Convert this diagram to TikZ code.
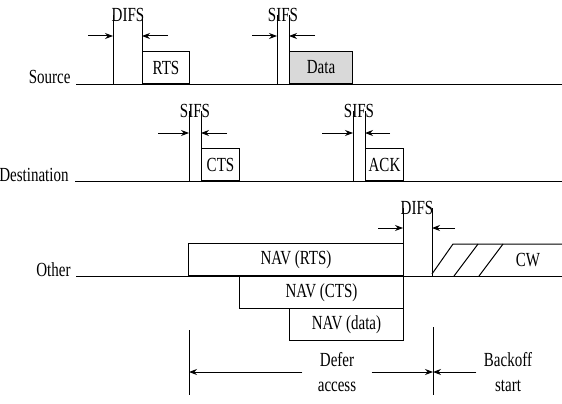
\documentclass[tikz,border=0pt]{standalone}
\usepackage{fontspec}
\setmainfont{Liberation Serif}[FakeStretch=0.75]
\usepackage{tikz}
\usetikzlibrary{arrows.meta,positioning}

\begin{document}
\begin{tikzpicture}[x=1pt, y=-1pt, line width=1pt,
    frame/.style={draw, anchor=south west, minimum height=32pt, inner sep=0pt, font=\fontsize{20}{25}\selectfont},
    lbl/.style={inner sep=0pt, font=\fontsize{20}{25}\selectfont},
    gap/.style={-{Stealth[length=8pt,width=6pt]}}
]
\useasboundingbox (0,0) rectangle (562,404);

% Source
\node[lbl, anchor=base east] (src) at (71,84) {Source};
\coordinate (srcL) at (76,84);
\coordinate (srcR) at (562,84);
\draw (srcL) -- (srcR);
\node[lbl] (difs1) at (128,15) {DIFS};
\coordinate (difs1a) at (113,84);
\coordinate (difs1b) at (142,84);
\draw (difs1a |- difs1.center) -- (difs1a);
\draw (difs1b |- difs1.center) -- (difs1b);
\coordinate (difs1l) at (88,36);
\coordinate (difs1r) at (168,36);
\draw[gap] (difs1l) -- (difs1l -| difs1a);
\draw[gap] (difs1r) -- (difs1r -| difs1b);
\node[frame, minimum width=47pt] (rts) at (difs1b) {RTS};
\node[lbl] (sifs1) at (283,15) {SIFS};
\coordinate (sifs1a) at (277,84);
\coordinate (sifs1b) at (289,84);
\draw (sifs1a |- sifs1.center) -- (sifs1a);
\draw (sifs1b |- sifs1.center) -- (sifs1b);
\coordinate (sifs1l) at (252,36);
\coordinate (sifs1r) at (315,36);
\draw[gap] (sifs1l) -- (sifs1l -| sifs1a);
\draw[gap] (sifs1r) -- (sifs1r -| sifs1b);
\node[frame, fill=gray!30, minimum width=63pt] (data) at (sifs1b) {Data};

% Destination
\node[lbl, anchor=base east] (dst) at (69,181) {Destination};
\coordinate (dstL) at (75,181);
\coordinate (dstR) at (562,181);
\draw (dstL) -- (dstR);
\node[lbl] (sifs2) at (195,111) {SIFS};
\coordinate (sifs2a) at (189,181);
\coordinate (sifs2b) at (201,181);
\draw (sifs2a |- sifs2.center) -- (sifs2a);
\draw (sifs2b |- sifs2.center) -- (sifs2b);
\coordinate (sifs2l) at (158,133);
\coordinate (sifs2r) at (227,133);
\draw[gap] (sifs2l) -- (sifs2l -| sifs2a);
\draw[gap] (sifs2r) -- (sifs2r -| sifs2b);
\node[frame, minimum width=38pt] (cts) at (sifs2b) {CTS};
\node[lbl] (sifs3) at (359,111) {SIFS};
\coordinate (sifs3a) at (353,181);
\coordinate (sifs3b) at (365,181);
\draw (sifs3a |- sifs3.center) -- (sifs3a);
\draw (sifs3b |- sifs3.center) -- (sifs3b);
\coordinate (sifs3l) at (322,133);
\coordinate (sifs3r) at (390,133);
\draw[gap] (sifs3l) -- (sifs3l -| sifs3a);
\draw[gap] (sifs3r) -- (sifs3r -| sifs3b);
\node[frame, minimum width=38pt] (ack) at (sifs3b) {ACK};

% Other
\node[lbl, anchor=base east] (oth) at (71,276) {Other};
\coordinate (othL) at (76,276);
\coordinate (othR) at (562,276);
\draw (othL) -- (othR);
\node[frame, minimum width=215pt] (navrts) at (188,276) {NAV (RTS)};
\node[frame, anchor=north west, minimum width=164pt] (navcts) at (239,276) {NAV (CTS)};
\node[frame, anchor=north west, minimum width=114pt] (navdata) at (289,308) {NAV (data)};
\node[lbl] (difs2) at (417,208) {DIFS};
\coordinate (difs2a) at (403,276);
\coordinate (difs2b) at (432,276);
\draw (difs2a |- difs2.center) -- (difs2a);
\draw (difs2b |- difs2.center) -- (difs2b);
\coordinate (difs2l) at (378,228);
\coordinate (difs2r) at (455,228);
\draw[gap] (difs2l) -- (difs2l -| difs2a);
\draw[gap] (difs2r) -- (difs2r -| difs2b);
% contention window
\coordinate (cw1) at (432,274);
\coordinate (cw2) at (453,244);
\coordinate (cw3) at (562,244);
\draw (cw1) -- (cw2) -- (cw3);
\draw (454,276) -- (478,244);
\draw (479,276) -- (503,244);
\node[lbl] (cw) at (528,260) {CW};

% Defer / Backoff
\coordinate (defT) at (189,330);
\coordinate (defB) at (189,395);
\draw (defT) -- (defB);
\coordinate (bkT) at (433,327);
\coordinate (bkB) at (433,395);
\draw (bkT) -- (bkB);
\node[lbl, align=center, inner xsep=15pt] (defer) at (337,372) {Defer\\access};
\draw[gap] (defer.west) -- (defer.west -| defB);
\draw[gap] (defer.east) -- (defer.east -| bkB);
\node[lbl, align=center, inner xsep=7pt] (bk) at (508,372) {Backoff\\start};
\draw[gap] (bk.west) -- (bk.west -| bkB);
\end{tikzpicture}
\end{document}
